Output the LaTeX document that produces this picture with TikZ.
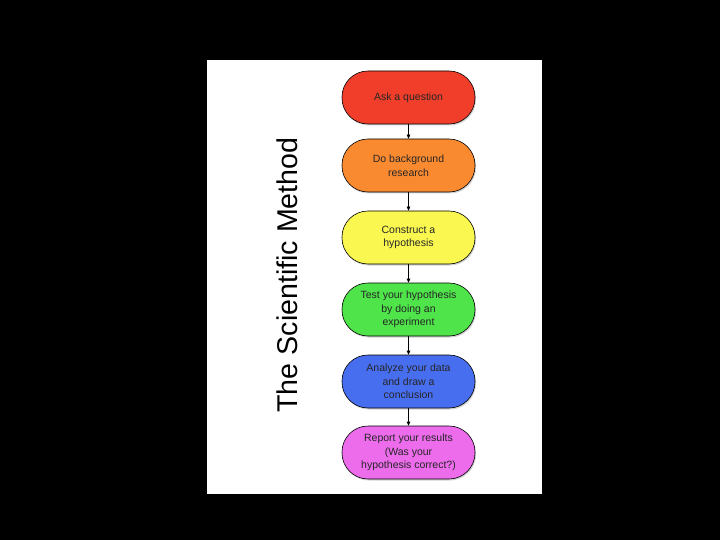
\documentclass[tikz,border=0pt]{standalone}
\usepackage{fontspec}
\setmainfont{Liberation Sans}
\usetikzlibrary{arrows.meta,shadows}
\definecolor{cRed}{RGB}{240,62,42}
\definecolor{cOrange}{RGB}{250,138,48}
\definecolor{cYellow}{RGB}{250,248,80}
\definecolor{cGreen}{RGB}{78,228,74}
\definecolor{cBlue}{RGB}{72,110,240}
\definecolor{cPink}{RGB}{236,108,236}
\tikzset{
  stepbox/.style={draw=black, line width=0.6pt, rounded corners=26pt,
    minimum width=133pt, minimum height=53pt, align=center,
    font=\fontsize{10.5}{13.5}\selectfont, text=black!85,
    drop shadow={shadow xshift=1pt, shadow yshift=-1.5pt, opacity=0.35}},
  link/.style={draw=black, line width=0.6pt, -{Triangle[length=4pt,width=3.5pt]}}
}
\begin{document}
\begin{tikzpicture}[x=1pt,y=-1pt]
\useasboundingbox (0,0) rectangle (720,540);
\fill[black] (0,0) rectangle (720,540);
\fill[white] (207,60) rectangle (542,494);
\node[rotate=90, font=\fontsize{28.6}{30}\selectfont] (title) at (287,275) {The Scientific Method};
\node[stepbox, fill=cRed] (s1) at (408.5,97.5) {Ask a question};
\node[stepbox, fill=cOrange] (s2) at (408.5,165.5) {Do background\\research};
\node[stepbox, fill=cYellow] (s3) at (408.5,237.5) {Construct a\\hypothesis};
\node[stepbox, fill=cGreen] (s4) at (408.5,309.5) {Test your hypothesis\\by doing an\\experiment};
\node[stepbox, fill=cBlue] (s5) at (408.5,381.5) {Analyze your data\\and draw a\\conclusion};
\node[stepbox, fill=cPink] (s6) at (408.5,452.5) {Report your results\\(Was your\\hypothesis correct?)};
\draw[link] (s1) -- (s2);
\draw[link] (s2) -- (s3);
\draw[link] (s3) -- (s4);
\draw[link] (s4) -- (s5);
\draw[link] (s5) -- (s6);
\end{tikzpicture}
\end{document}
